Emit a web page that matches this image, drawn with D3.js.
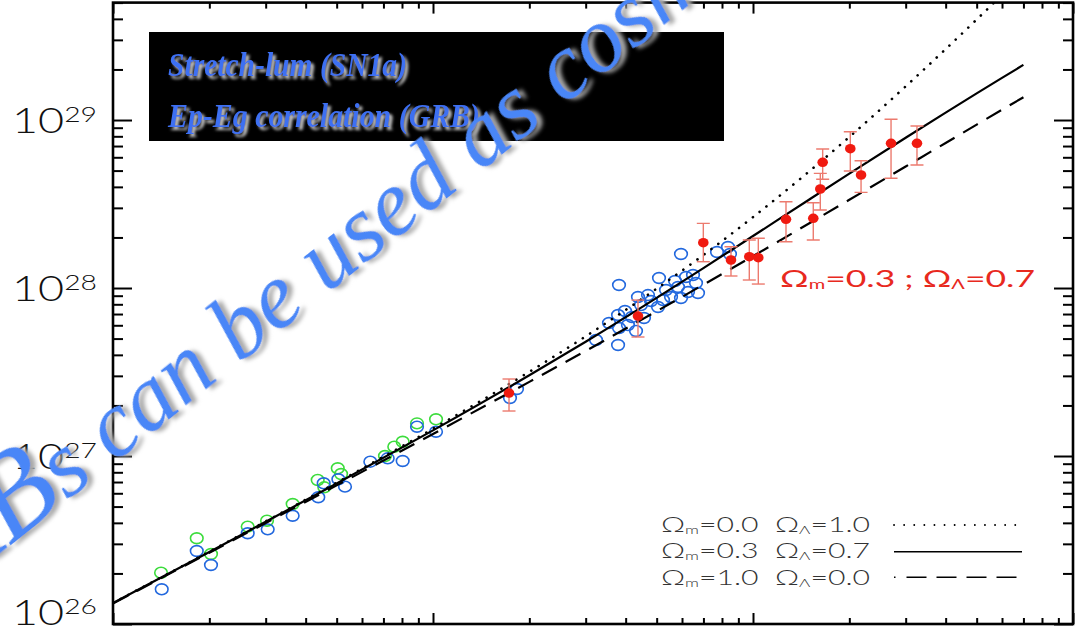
<!DOCTYPE html>
<html><head><meta charset="utf-8">
<script src="https://cdn.jsdelivr.net/npm/d3@7"></script>
<style>
html,body{margin:0;padding:0;background:#fff;}
svg{display:block;}
</style></head>
<body>
<svg id="chart" width="1079" height="636"></svg>
<script>
// Redshift grid and luminosity distances (cm, H0 = 70) for the three model cosmologies
const modelZ     = [0.01, 0.02, 0.03, 0.05, 0.1, 0.2, 0.3, 0.5, 0.7, 1, 1.5, 2, 3, 4, 5, 6, 7];
const dlLambda   = [1.3317e26, 2.6838e26, 4.0563e26, 6.8592e26, 1.4203e27, 3.0242e27, 4.7912e27, 8.7416e27, 1.3144e28, 2.0389e28, 3.3664e28, 4.7950e28, 7.8447e28, 1.1063e29, 1.4396e29, 1.7813e29, 2.1298e29]; // Ωm=0.3 ΩΛ=0.7
const dlDeSitter = [1.3347e26, 2.6959e26, 4.0835e26, 6.9380e26, 1.4537e27, 3.1716e27, 5.1539e27, 9.9114e27, 1.5726e28, 2.6430e28, 4.9557e28, 7.9291e28, 1.5858e29, 2.6430e29, 3.9646e29, 5.5504e29, 7.4005e29]; // Ωm=0.0 ΩΛ=1.0
const dlEdS      = [1.3248e26, 2.6561e26, 3.9938e26, 6.6882e26, 1.3530e27, 2.7634e27, 4.2242e27, 7.2751e27, 1.0471e28, 1.5483e28, 2.4286e28, 3.3512e28, 5.2861e28, 7.3052e28, 9.3841e28, 1.1508e29, 1.3669e29]; // Ωm=1.0 ΩΛ=0.0

// SN Ia, stretch-luminosity calibrated (green)
const snGreenZ  = [0.01413, 0.01827, 0.02024, 0.02636, 0.03029, 0.03643, 0.04362, 0.04574, 0.05039, 0.05160, 0.07079, 0.07567, 0.08040, 0.08913, 0.1022];
const snGreenDL = [2.02e26, 3.24e26, 2.61e26, 3.80e26, 4.12e26, 5.18e26, 7.20e26, 6.51e26, 8.45e26, 7.81e26, 1.00e27, 1.136e27, 1.216e27, 1.565e27, 1.654e27];

// SN Ia (blue)
const snBlueZ  = [0.01420, 0.01827, 0.02024, 0.02636, 0.03044, 0.03643, 0.04381, 0.04554, 0.05061, 0.05309, 0.06369, 0.07219, 0.08040, 0.08913, 0.1022, 0.1740, 0.1830,
                  0.3231, 0.3787, 0.3548, 0.3787, 0.3981, 0.3813, 0.4309, 0.4564, 0.4371, 0.4697, 0.4800, 0.5049, 0.5085, 0.5348, 0.5544, 0.5830,
                  0.5957, 0.6175, 0.6494, 0.6636, 0.6732, 0.6264, 0.5957, 0.7718, 0.8353, 0.4185, 0.4066, 0.4467, 0.5233, 0.5706, 0.3813, 0.8472];
const snBlueDL = [1.609e26, 2.72e26, 2.245e26, 3.47e26, 3.66e26, 4.41e26, 5.68e26, 6.88e26, 7.27e26, 6.57e26, 9.25e26, 9.69e26, 9.34e26, 1.494e27, 1.395e27, 2.214e27, 2.505e27,
                  4.905e27, 4.579e27, 6.19e27, 6.91e27, 7.30e27, 1.042e28, 5.55e27, 6.63e27, 8.84e27, 9.08e27, 8.37e27, 7.71e27, 1.147e28, 9.73e27, 8.84e27, 1.014e28,
                  8.72e27, 1.163e28, 1.195e28, 1.071e28, 9.34e27, 9.47e27, 1.594e28, 1.638e28, 1.754e28, 6.72e27, 6.02e27, 7.92e27, 8.48e27, 1.101e28, 5.78e27, 1.594e28];

// GRBs, Ep-Egamma correlation, with 1-sigma ranges
const grbZ  = [0.1728, 0.4371, 0.6994, 0.8535, 0.9737, 1.039, 1.268, 1.543, 1.623, 1.651, 2.014, 2.176, 2.700, 3.254];
const grbDL = [2.371e27, 6.81e27, 1.861e28, 1.468e28, 1.536e28, 1.515e28, 2.564e28, 2.600e28, 3.885e28, 5.600e28, 6.75e28, 4.706e28, 7.27e28, 7.27e28];
const grbLo = [1.853e27, 5.11e27, 1.434e28, 1.179e28, 1.116e28, 1.056e28, 1.887e28, 1.931e28, 2.913e28, 4.436e28, 4.97e28, 3.71e28, 4.50e28, 5.40e28];
const grbHi = [2.873e27, 8.48e27, 2.427e28, 1.761e28, 1.931e28, 1.976e28, 3.264e28, 3.219e28, 4.816e28, 6.72e28, 8.52e28, 5.72e28, 1.010e29, 9.21e28];

const yLabelPowers = [26, 27, 28, 29];
const legendOmegas = [["0.0", "1.0"], ["0.3", "0.7"], ["1.0", "0.0"]];
const boxLines = ["Stretch-lum (SN1a)", "Ep-Eg correlation (GRB)"];
const bannerText = "GRBs can be used as cosmological";

const svg = d3.select("#chart");
const plotL = 113, plotR = 1073, plotT = 2.6, plotB = 624;

const x = d3.scaleLog().domain([0.01, 10]).range([plotL, plotR]);
const y = d3.scaleLog().domain([1e26, 5e29]).range([plotB, plotT]);

const defs = svg.append("defs");
defs.append("clipPath").attr("id", "plotClip")
  .append("rect").attr("x", plotL).attr("y", plotT).attr("width", plotR - plotL).attr("height", plotB - plotT);

// soft grey drop shadow for the script lettering
function shadowFilter(id, blur, dx, colour) {
  const f = defs.append("filter").attr("id", id).attr("x", "-10%").attr("y", "-10%").attr("width", "130%").attr("height", "130%");
  f.append("feGaussianBlur").attr("in", "SourceAlpha").attr("stdDeviation", blur).attr("result", "b");
  f.append("feOffset").attr("in", "b").attr("dx", dx).attr("dy", dx).attr("result", "o");
  f.append("feFlood").attr("flood-color", colour).attr("result", "f");
  f.append("feComposite").attr("in", "f").attr("in2", "o").attr("operator", "in").attr("result", "s");
  const m = f.append("feMerge");
  m.append("feMergeNode").attr("in", "s");
  m.append("feMergeNode").attr("in", "SourceGraphic");
}
shadowFilter("glow", 2.2, 3.5, "#a8a8a8");
shadowFilter("glowBox", 1.6, 2.5, "#c8c8c8");

// ---- axes: major / minor ticks on all four sides ----
const isMajor = v => Math.abs(Math.log10(v) - Math.round(Math.log10(v))) < 1e-9;
const xTicks = x.ticks();
const yTicks = y.ticks().filter(v => v <= 5e29);
const xMaj = xTicks.filter(isMajor), xMin = xTicks.filter(v => !isMajor(v));
const yMaj = yTicks.filter(isMajor), yMin = yTicks.filter(v => !isMajor(v));

function drawAxis(gen, tx, ty) {
  const g = svg.append("g").attr("transform", `translate(${tx},${ty})`).call(gen);
  g.select(".domain").remove();
  g.selectAll("text").remove();
  g.selectAll("line").attr("stroke", "#000").attr("stroke-width", 2);
  return g;
}
drawAxis(d3.axisBottom(x).tickValues(xMaj).tickSize(-11), 0, plotB);
drawAxis(d3.axisBottom(x).tickValues(xMin).tickSize(-6), 0, plotB);
drawAxis(d3.axisTop(x).tickValues(xMaj).tickSize(-11), 0, plotT);
drawAxis(d3.axisTop(x).tickValues(xMin).tickSize(-6), 0, plotT);
drawAxis(d3.axisLeft(y).tickValues(yMaj).tickSize(-19), plotL, 0);
drawAxis(d3.axisLeft(y).tickValues(yMin).tickSize(-10), plotL, 0);
drawAxis(d3.axisRight(y).tickValues(yMaj).tickSize(-19), plotR, 0);
drawAxis(d3.axisRight(y).tickValues(yMin).tickSize(-10), plotR, 0);

svg.append("rect").attr("x", plotL).attr("y", plotT).attr("width", plotR - plotL).attr("height", plotB - plotT)
  .attr("fill", "none").attr("stroke", "#000").attr("stroke-width", 2.6);

// y tick labels 10^n
const sansFont = "Lato, 'DejaVu Sans', sans-serif";
yLabelPowers.forEach(p => {
  const base = p === 26 ? plotB + 1 : y(Math.pow(10, p)) + 13;
  const t = svg.append("text").attr("x", 12).attr("y", base)
    .attr("font-family", sansFont).attr("font-weight", 300).attr("fill", "#111")
    .attr("textLength", 85).attr("lengthAdjust", "spacingAndGlyphs");
  t.append("tspan").attr("font-size", 35).text("10");
  t.append("tspan").attr("font-size", 22).attr("dy", -11).text(String(p));
});

// ---- black caption box ----
const serifFont = "'Liberation Serif', 'DejaVu Serif', serif";
svg.append("rect").attr("x", 149).attr("y", 32).attr("width", 575).attr("height", 109).attr("fill", "#000");
const boxW = [239, 312];
boxLines.forEach((s, i) => {
  svg.append("text").attr("x", 168).attr("y", i === 0 ? 76 : 127)
    .attr("font-family", serifFont).attr("font-style", "italic").attr("font-weight", "bold")
    .attr("font-size", 33).attr("fill", "#3d6ff2").attr("filter", "url(#glowBox)")
    .attr("textLength", boxW[i]).attr("lengthAdjust", "spacingAndGlyphs")
    .text(s);
});

// ---- data and models ----
const plot = svg.append("g").attr("clip-path", "url(#plotClip)");

plot.selectAll("ellipse.sng").data(d3.range(snGreenZ.length)).join("ellipse")
  .attr("cx", i => x(snGreenZ[i])).attr("cy", i => y(snGreenDL[i]))
  .attr("rx", 6.3).attr("ry", 5.4).attr("fill", "none").attr("stroke", "#3cdc3c").attr("stroke-width", 1.6);
plot.selectAll("ellipse.snb").data(d3.range(snBlueZ.length)).join("ellipse")
  .attr("cx", i => x(snBlueZ[i])).attr("cy", i => y(snBlueDL[i]))
  .attr("rx", 6.3).attr("ry", 5.4).attr("fill", "none").attr("stroke", "#2268de").attr("stroke-width", 1.6);

const line = d3.line().x(d => x(d[0])).y(d => y(d[1])).curve(d3.curveMonotoneX);
const models = [
  { dl: dlDeSitter, dash: "0.1 8.6", width: 2.6, cap: "round" },
  { dl: dlLambda,   dash: null,      width: 2.2, cap: "butt" },
  { dl: dlEdS,      dash: "17 10",   width: 2.2, cap: "butt" }
];
models.forEach(m => {
  plot.append("path").datum(modelZ.map((z, i) => [z, m.dl[i]]))
    .attr("d", line).attr("fill", "none").attr("stroke", "#000")
    .attr("stroke-width", m.width).attr("stroke-linecap", m.cap)
    .attr("stroke-dasharray", m.dash);
});

const grb = plot.selectAll("g.grb").data(d3.range(grbZ.length)).join("g");
grb.append("line").attr("x1", i => x(grbZ[i])).attr("x2", i => x(grbZ[i]))
  .attr("y1", i => y(grbLo[i])).attr("y2", i => y(grbHi[i]))
  .attr("stroke", "#ec7a6e").attr("stroke-width", 1.4);
[grbLo, grbHi].forEach(arr => {
  grb.append("line").attr("x1", i => x(grbZ[i]) - 6.5).attr("x2", i => x(grbZ[i]) + 6.5)
    .attr("y1", i => y(arr[i])).attr("y2", i => y(arr[i]))
    .attr("stroke", "#ec7a6e").attr("stroke-width", 1.4);
});
grb.append("ellipse").attr("cx", i => x(grbZ[i])).attr("cy", i => y(grbDL[i]))
  .attr("rx", 5.3).attr("ry", 4.8).attr("fill", "#f01a10");

// ---- annotations ----
function omegaText(sel, mVal, lVal, sep, sub) {
  sel.append("tspan").text("Ω");
  sel.append("tspan").attr("font-size", sub).attr("dy", 2).text("m");
  sel.append("tspan").attr("dy", -2).text("=" + mVal + sep + "Ω");
  sel.append("tspan").attr("font-size", sub).attr("dy", 2).text("Λ");
  sel.append("tspan").attr("dy", -2).text("=" + lVal);
}
const red = svg.append("text").attr("x", 780).attr("y", 287)
  .attr("font-family", sansFont).attr("font-size", 23).attr("fill", "#e8291e").attr("xml:space", "preserve")
  .attr("textLength", 255).attr("lengthAdjust", "spacingAndGlyphs");
omegaText(red, "0.3", "0.7", " ; ", 13);

const legY = [532, 558, 585];
const legLineY = [525, 551.7, 577.3];
legendOmegas.forEach((o, i) => {
  const t = svg.append("text").attr("x", 661).attr("y", legY[i])
    .attr("font-family", sansFont).attr("font-weight", 300).attr("font-size", 21)
    .attr("fill", "#333").attr("xml:space", "preserve")
    .attr("textLength", 209).attr("lengthAdjust", "spacingAndGlyphs");
  omegaText(t, o[0], o[1], "  ", 12);
  const m = models[i];
  svg.append("line").attr("x1", 894).attr("x2", 1022).attr("y1", legLineY[i]).attr("y2", legLineY[i])
    .attr("stroke", "#000").attr("stroke-width", i === 0 ? 1.8 : 1.6)
    .attr("stroke-linecap", m.cap).attr("stroke-dasharray", i === 0 ? "0.1 10" : i === 2 ? "1.5 11 20 10 20 10 20 10 20 10" : null);
});

// ---- diagonal script banner ----
const banner = svg.append("g").attr("transform", "translate(114,463) rotate(-38.5)");
const bt = banner.append("text").attr("font-family", serifFont)
  .attr("font-style", "italic").attr("font-size", 94).attr("fill", "#4a86f7").attr("filter", "url(#glow)");
bt.append("tspan").attr("font-size", 120).text(bannerText.slice(0, 3));
bt.append("tspan").text(bannerText.slice(3));
// shift the run so that "can" begins at the group origin
const canAt = bt.node().getStartPositionOfChar(bannerText.indexOf("can")).x;
bt.attr("x", -canAt);
</script>
</body></html>
